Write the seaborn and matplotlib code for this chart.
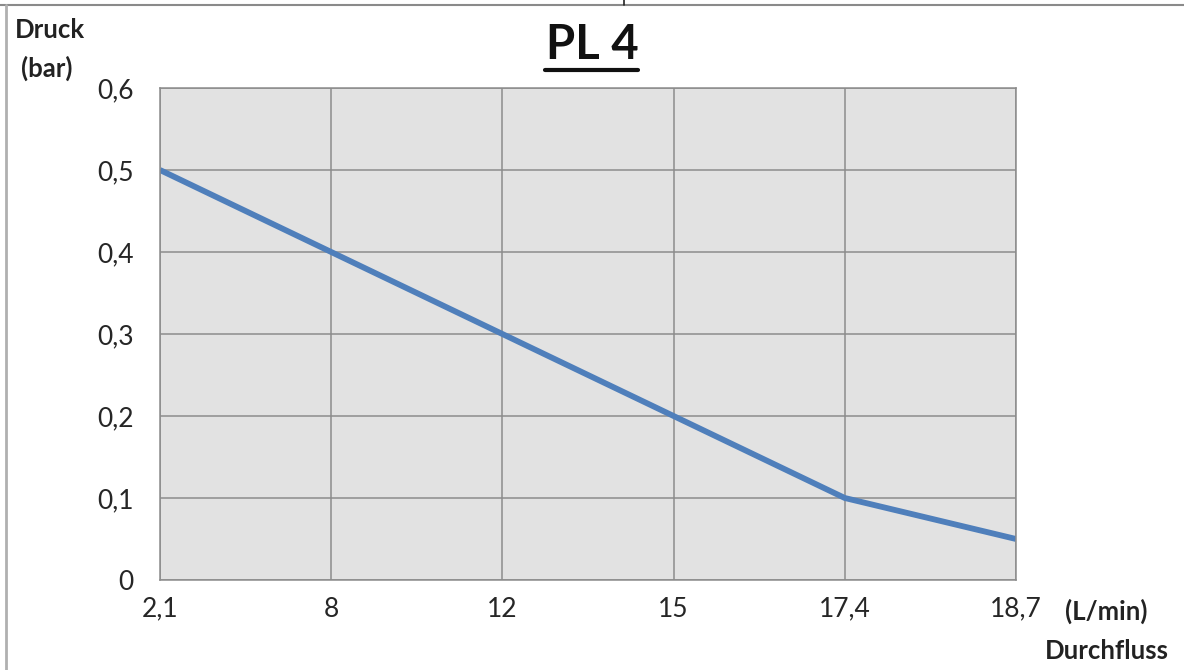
import matplotlib
matplotlib.use("Agg")
import matplotlib.pyplot as plt
import seaborn as sns
import pandas as pd
from matplotlib.lines import Line2D

flow_labels = ["2,1", "8", "12", "15", "17,4", "18,7"]
pressure = [0.5, 0.4, 0.3, 0.2, 0.1, 0.05]
y_ticks = [0, 0.1, 0.2, 0.3, 0.4, 0.5, 0.6]
y_tick_labels = ["0", "0,1", "0,2", "0,3", "0,4", "0,5", "0,6"]
title = "PL 4"

sns.set_style("white")
plt.rcParams["font.family"] = ["Lato", "DejaVu Sans"]

df = pd.DataFrame({"pos": list(range(len(flow_labels))), "p": pressure})

fig = plt.figure(figsize=(11.84, 6.70), dpi=100)
ax = fig.add_axes([160/1184, 1-580/670, (1016-160)/1184, (580-88)/670])
ax.set_facecolor("#e2e2e2")

sns.lineplot(data=df, x="pos", y="p", ax=ax, color="#4f7fbb", linewidth=4.2,
             solid_capstyle="butt")

ax.set_xlim(0, len(flow_labels) - 1)
ax.set_ylim(0, 0.6)
ax.set_xticks(range(len(flow_labels)))
ax.set_xticklabels(flow_labels)
ax.set_yticks(y_ticks)
ax.set_yticklabels(y_tick_labels)
ax.grid(True, color="#8c8c8c", linewidth=1.1)
ax.set_axisbelow(True)
for s in ["top", "right", "left", "bottom"]:
    ax.spines[s].set_color("#8c8c8c")
    ax.spines[s].set_linewidth(1.1)
ax.tick_params(axis="both", length=7, width=1.1, color="#8c8c8c",
               labelsize=19, labelcolor="#262626", direction="out")
ax.tick_params(axis="x", pad=5)
ax.tick_params(axis="y", pad=12)
ax.set_xlabel("")
ax.set_ylabel("")

# title with underline
fig.text(592/1184, 1-45/670, title, ha="center", va="center",
         fontsize=34, fontweight="bold", color="#111111")
fig.add_artist(Line2D([545/1184, 638/1184], [1-70/670, 1-70/670],
                      color="#111111", linewidth=3))

# axis labels
lab_kw = dict(fontsize=18.5, fontweight="bold", color="#222222")
fig.text(15/1184, 1-30/670, "Druck", ha="left", va="center", **lab_kw)
fig.text(21/1184, 1-68/670, "(bar)", ha="left", va="center", **lab_kw)
fig.text(1106/1184, 1-611/670, "(L/min)", ha="center", va="center", **lab_kw)
fig.text(1107/1184, 1-651/670, "Durchfluss", ha="center", va="center", **lab_kw)

# frame lines of the chart area
fig.add_artist(Line2D([0, 1], [1-5/670, 1-5/670], color="#8a8a8a", linewidth=1.5))
fig.add_artist(Line2D([6/1184, 6/1184], [0, 1-5/670], color="#b0b0b0", linewidth=2))
fig.add_artist(Line2D([624/1184, 624/1184], [1-5/670, 1], color="#222222", linewidth=1.2))

fig.savefig("out.png", dpi=100)
